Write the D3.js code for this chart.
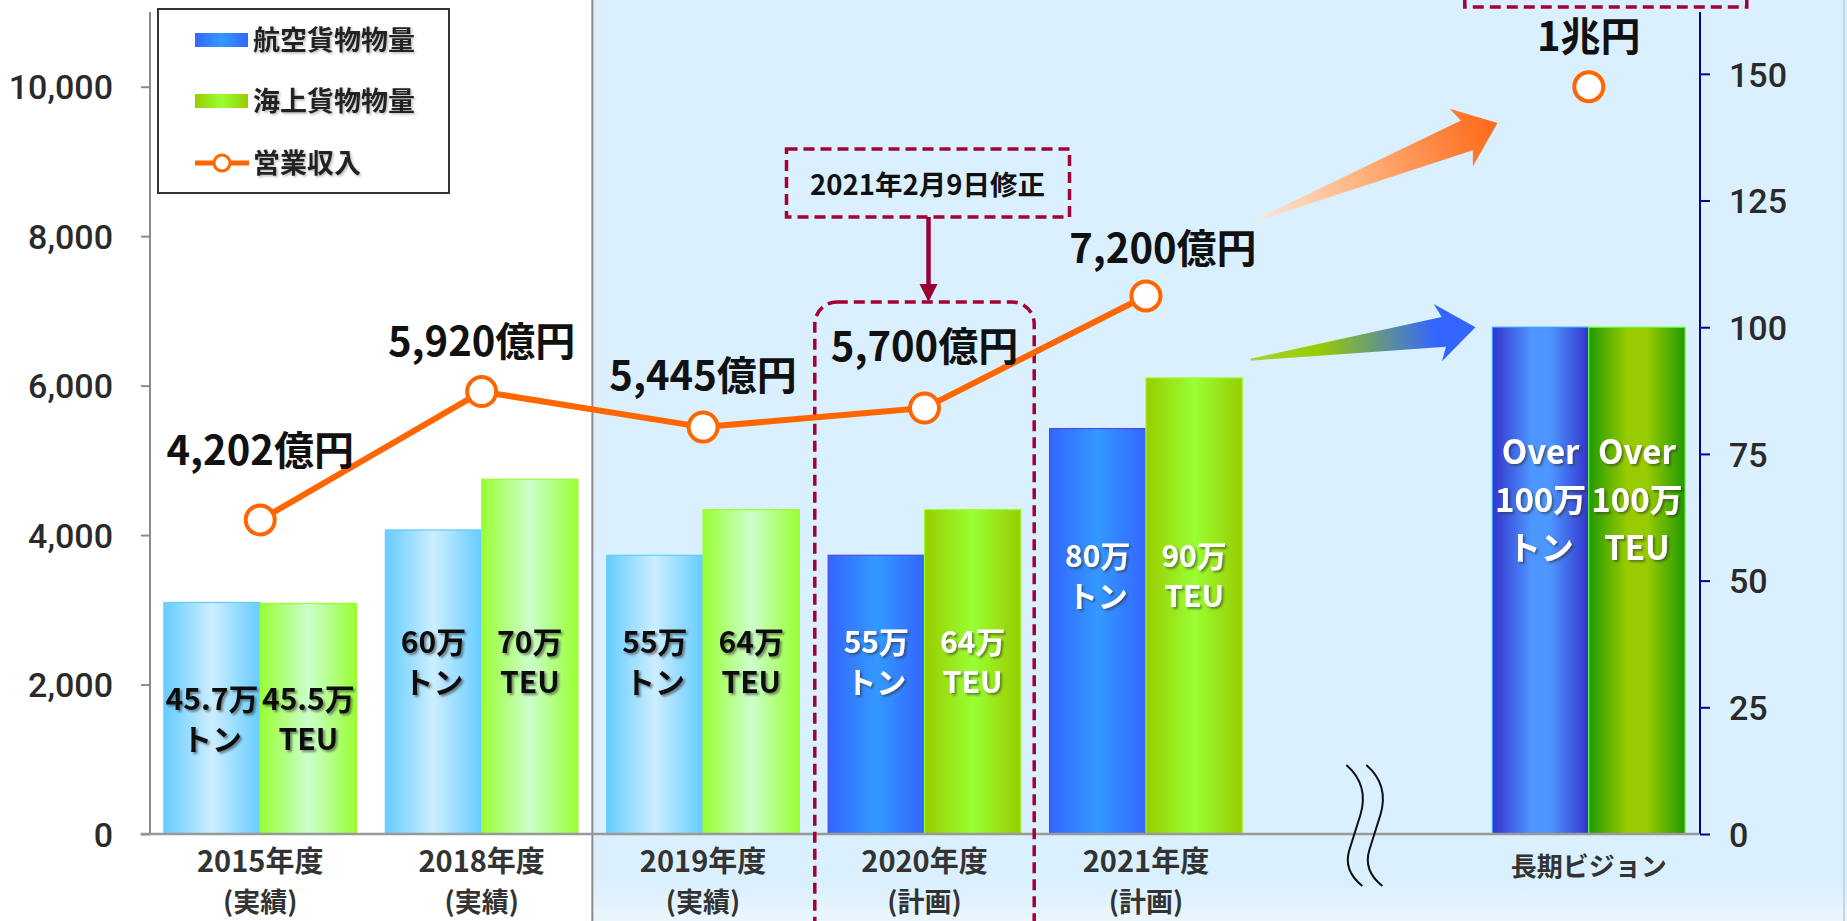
<!DOCTYPE html>
<html><head><meta charset="utf-8">
<script src="https://cdn.jsdelivr.net/npm/d3@7"></script>
<style>
html,body{margin:0;padding:0;background:#fff;}
svg{display:block;}
</style></head>
<body>
<svg id="chart" width="1847" height="921"></svg>
<script>
// ---------- data ----------
const categories = ["2015", "2018", "2019", "2020", "2021", "gap", "vision"];
const catLine1 = ["2015年度", "2018年度", "2019年度", "2020年度", "2021年度", "", "長期ビジョン"];
const catLine2 = ["(実績)", "(実績)", "(実績)", "(計画)", "(計画)", "", ""];
const airValues = [45.7, 60, 55, 55, 80, null, 100];   // 万トン (right axis)
const seaValues = [45.5, 70, 64, 64, 90, null, 100];   // 万TEU (right axis)
const revenue = [4202, 5920, 5445, 5700, 7200, null, 10000]; // 億円 (left axis)
const revenueLabels = ["4,202億円", "5,920億円", "5,445億円", "5,700億円", "7,200億円", "", "1兆円"];
const airLabels = [["45.7万", "トン"], ["60万", "トン"], ["55万", "トン"], ["55万", "トン"], ["80万", "トン"], null, ["Over", "100万", "トン"]];
const seaLabels = [["45.5万", "TEU"], ["70万", "TEU"], ["64万", "TEU"], ["64万", "TEU"], ["90万", "TEU"], null, ["Over", "100万", "TEU"]];
const barStyle = ["actual", "actual", "actual", "plan", "plan", null, "vision"];
const labelLevel = [24.5, 35.7, 35.7, 35.7, 52.7, null, 73]; // right-axis units where bar text starts
const leftTicks = [0, 2000, 4000, 6000, 8000, 10000];
const rightTicks = [0, 25, 50, 75, 100, 125, 150];
const legendItems = ["航空貨物物量", "海上貨物物量", "営業収入"];
const noteText = "2021年2月9日修正";
// label nudges for revenue texts (px above / beside point)
const revLabelDy = [-55, -36, -37, -47, -33, 0, -36];
const revLabelDx = [0, 0, 0, 0, 17, 0, 0];

// ---------- setup ----------
const W = 1847, H = 921;
const FONT = "'Noto Sans CJK JP','Noto Sans',sans-serif";
const svg = d3.select("#chart");
const defs = svg.append("defs");

const x = d3.scaleBand().domain(categories).range([149.5, 1699.5]).paddingInner(0.13).paddingOuter(0.065);
const xs = d3.scaleBand().domain(["air", "sea"]).range([0, x.bandwidth()]).padding(0);
const yL = d3.scaleLinear().domain([0, 11000]).range([834, 12]);
const yR = d3.scaleLinear().domain([0, 162.2]).range([834, 12]);

function hGrad(id, stops) {
  const g = defs.append("linearGradient").attr("id", id).attr("x1", 0).attr("x2", 1).attr("y1", 0).attr("y2", 0);
  stops.forEach(s => g.append("stop").attr("offset", s[0]).attr("stop-color", s[1]));
}
hGrad("g-actual-air", [[0, "#66ccff"], [0.5, "#cceeff"], [1, "#66ccff"]]);
hGrad("g-actual-sea", [[0, "#99ff33"], [0.5, "#ccffcc"], [1, "#99ff33"]]);
hGrad("g-plan-air", [[0, "#3366ff"], [0.5, "#3399ff"], [1, "#3366ff"]]);
hGrad("g-plan-sea", [[0, "#99cc00"], [0.5, "#99ff33"], [1, "#99cc00"]]);
hGrad("g-vision-air", [[0, "#3333cc"], [0.4, "#4d96ff"], [0.6, "#4d96ff"], [1, "#3333cc"]]);
hGrad("g-vision-sea", [[0, "#229900"], [0.4, "#99cc00"], [0.6, "#99cc00"], [1, "#229900"]]);
const strokeOf = {
  "actual-air": "#66ccff", "actual-sea": "#99ff33",
  "plan-air": "#4a4aee", "plan-sea": "#99ff33",
  "vision-air": "#3399ff", "vision-sea": "#66ff33"
};

const sh = defs.append("filter").attr("id", "shadow").attr("x", "-20%").attr("y", "-20%").attr("width", "150%").attr("height", "150%");
sh.append("feDropShadow").attr("dx", 2).attr("dy", 2).attr("stdDeviation", 1).attr("flood-color", "#333").attr("flood-opacity", 0.55);
const sh2 = defs.append("filter").attr("id", "shadowLight").attr("x", "-20%").attr("y", "-20%").attr("width", "150%").attr("height", "150%");
sh2.append("feDropShadow").attr("dx", 1.5).attr("dy", 1.5).attr("stdDeviation", 0.8).attr("flood-color", "#666").attr("flood-opacity", 0.45);

// ---------- backgrounds ----------
const splitX = x("2019") - x.step() * x.paddingInner() / 2;
svg.append("rect").attr("x", 0).attr("y", 0).attr("width", W).attr("height", H).attr("fill", "#ffffff");
svg.append("rect").attr("x", splitX).attr("y", 0).attr("width", W - splitX).attr("height", H).attr("fill", "#dbf0fe");
const bg = defs.append("linearGradient").attr("id", "bottomFade").attr("x1", 0).attr("x2", 0).attr("y1", 0).attr("y2", 1);
bg.append("stop").attr("offset", 0).attr("stop-color", "#fff").attr("stop-opacity", 0);
bg.append("stop").attr("offset", 1).attr("stop-color", "#fff").attr("stop-opacity", 0.45);
svg.append("rect").attr("x", 0).attr("y", 885).attr("width", W).attr("height", H - 885).attr("fill", "url(#bottomFade)");
svg.append("line").attr("x1", splitX).attr("x2", splitX).attr("y1", 0).attr("y2", H).attr("stroke", "#8c8c8c").attr("stroke-width", 2);
svg.append("line").attr("x1", W - 3).attr("x2", W - 3).attr("y1", 0).attr("y2", H).attr("stroke", "#b8cde0").attr("stroke-width", 1.5);

// ---------- bars ----------
const rows = categories.map((c, i) => ({c, i})).filter(d => barStyle[d.i]);
const barG = svg.append("g");
rows.forEach(d => {
  [["air", airValues], ["sea", seaValues]].forEach(([k, arr]) => {
    const key = barStyle[d.i] + "-" + k;
    barG.append("rect")
      .attr("x", x(d.c) + xs(k))
      .attr("y", yR(arr[d.i]))
      .attr("width", xs.bandwidth())
      .attr("height", yR(0) - yR(arr[d.i]))
      .attr("fill", `url(#g-${key})`)
      .attr("stroke", strokeOf[key]).attr("stroke-width", 1.2);
  });
});

// bar texts
rows.forEach(d => {
  const st = barStyle[d.i];
  const isVision = st === "vision";
  const fs = isVision ? 33 : 30;
  const lh = isVision ? 48 : 40;
  const col = st === "actual" ? "#111" : "#ffffff";
  [["air", airLabels], ["sea", seaLabels]].forEach(([k, arr]) => {
    const lines = arr[d.i];
    const cx = x(d.c) + xs(k) + xs.bandwidth() / 2;
    const t = barG.append("text").attr("text-anchor", "middle")
      .attr("font-family", FONT).attr("font-weight", 700).attr("font-size", fs)
      .attr("fill", col).attr("filter", "url(#shadow)");
    lines.forEach((ln, j) => {
      t.append("tspan").attr("x", cx).attr("y", yR(labelLevel[d.i]) + j * lh).text(ln);
    });
  });
});

// ---------- axes ----------
const leftAxis = d3.axisLeft(yL).tickValues(leftTicks).tickSize(9).tickPadding(28).tickFormat(d3.format(","));
const gl = svg.append("g").attr("transform", `translate(${x.range()[0] + 0.5},0)`).call(leftAxis);
gl.select(".domain").attr("stroke", "#8c8c8c").attr("stroke-width", 2).attr("d", `M0,${yL.range()[1]}V${yL.range()[0]}`);
gl.selectAll(".tick line").attr("stroke", "#8c8c8c").attr("stroke-width", 2);
gl.selectAll(".tick text").attr("font-family", "Roboto,'Liberation Sans',sans-serif").attr("font-weight", 500)
  .attr("font-size", 34).attr("fill", "#2a2a2a").attr("dy", "0.36em");

const rightAxis = d3.axisRight(yR).tickValues(rightTicks).tickSize(10).tickPadding(19);
const gr = svg.append("g").attr("transform", `translate(${x.range()[1] + 0.5},0)`).call(rightAxis);
gr.select(".domain").attr("stroke", "#000099").attr("stroke-width", 2).attr("d", `M0,${yR.range()[1]}V${yR.range()[0]}`);
gr.selectAll(".tick line").attr("stroke", "#000099").attr("stroke-width", 2);
gr.selectAll(".tick text").attr("font-family", "Roboto,'Liberation Sans',sans-serif").attr("font-weight", 500)
  .attr("font-size", 34).attr("fill", "#2a2a2a").attr("dy", "0.36em");

// baseline
svg.append("line").attr("x1", x.range()[0] - 9).attr("x2", x.range()[1]).attr("y1", yL(0)).attr("y2", yL(0))
  .attr("stroke", "#999").attr("stroke-width", 2.5);

// category labels
categories.forEach((c, i) => {
  if (!catLine1[i]) return;
  const cx = x(c) + x.bandwidth() / 2;
  const isV = c === "vision";
  svg.append("text").attr("x", cx).attr("y", isV ? 876 : 872).attr("text-anchor", "middle")
    .attr("font-family", FONT).attr("font-weight", 700).attr("font-size", isV ? 26 : 29).attr("fill", "#333")
    .text(catLine1[i]);
  if (catLine2[i]) svg.append("text").attr("x", cx).attr("y", 912).attr("text-anchor", "middle")
    .attr("font-family", FONT).attr("font-weight", 700).attr("font-size", 27).attr("fill", "#333")
    .text(catLine2[i]);
});

// break marks
const gapC = x("gap") + x.bandwidth() / 2;
[-12, 8].forEach(off => {
  const bx = gapC + off;
  svg.append("path")
    .attr("d", `M${bx - 9},765 C${bx + 6},778 ${bx + 11},795 ${bx + 5},815 L${bx - 6},850 C${bx - 11},866 ${bx - 3},878 ${bx + 7},886`)
    .attr("fill", "none").attr("stroke", "#111").attr("stroke-width", 2);
});

// ---------- annotations ----------
const dashCol = "#a50034";
// rounded dashed box around 2020
svg.append("rect").attr("x", x("2020") - x.step() * x.paddingInner() / 2 + 1).attr("y", 302)
  .attr("width", x.step() - 2).attr("height", 680).attr("rx", 22)
  .attr("fill", "none").attr("stroke", dashCol).attr("stroke-width", 3.5).attr("stroke-dasharray", "11,6");
// note box
const noteCx = x("2020") + x.bandwidth() / 2 + 3;
svg.append("rect").attr("x", noteCx - 141).attr("y", 149).attr("width", 283).attr("height", 68)
  .attr("fill", "none").attr("stroke", dashCol).attr("stroke-width", 3.5).attr("stroke-dasharray", "11,6");
svg.append("text").attr("x", noteCx).attr("y", 195).attr("text-anchor", "middle")
  .attr("font-family", FONT).attr("font-weight", 700).attr("font-size", 27.5).attr("fill", "#111")
  .text(noteText);
svg.append("line").attr("x1", noteCx + 1).attr("x2", noteCx + 1).attr("y1", 217).attr("y2", 288)
  .attr("stroke", "#990033").attr("stroke-width", 4.5);
svg.append("path").attr("d", `M${noteCx - 8},284 L${noteCx + 10},284 L${noteCx + 1},302 Z`).attr("fill", "#990033");
// top-right dashed box (partly off-canvas)
const visC = x("vision") + x.bandwidth() / 2;
svg.append("rect").attr("x", visC - 124).attr("y", -60).attr("width", 282).attr("height", 67)
  .attr("fill", "none").attr("stroke", dashCol).attr("stroke-width", 3.5).attr("stroke-dasharray", "11,6");

// trend arrows
function taperArrow(id, T, P, headLen, headHalf, shaftHalf, stops) {
  const g = defs.append("linearGradient").attr("id", id).attr("gradientUnits", "userSpaceOnUse")
    .attr("x1", T[0]).attr("y1", T[1]).attr("x2", P[0]).attr("y2", P[1]);
  stops.forEach(s => g.append("stop").attr("offset", s[0]).attr("stop-color", s[1]).attr("stop-opacity", s[2] == null ? 1 : s[2]));
  const dx = P[0] - T[0], dy = P[1] - T[1], L = Math.hypot(dx, dy);
  const ux = dx / L, uy = dy / L, nx = -uy, ny = ux;
  const B = [P[0] - ux * headLen, P[1] - uy * headLen];
  const pts = [
    [T[0] + nx * 1, T[1] + ny * 1],
    [B[0] + nx * shaftHalf, B[1] + ny * shaftHalf],
    [B[0] - ux * 6 + nx * headHalf, B[1] - uy * 6 + ny * headHalf],
    P,
    [B[0] - ux * 6 - nx * headHalf, B[1] - uy * 6 - ny * headHalf],
    [B[0] - nx * shaftHalf, B[1] - ny * shaftHalf],
    [T[0] - nx * 1, T[1] - ny * 1]
  ];
  svg.append("path").attr("d", d3.line()(pts) + "Z").attr("fill", `url(#${id})`);
}
const gapStart = x("gap") - x.step() * x.paddingInner() / 2;
taperArrow("arrO", [gapStart, yL(8216)], [x("vision") + 5, yL(9514)], 33, 31, 16,
  [[0, "#ffe6d2", 0.9], [0.45, "#ffb07a"], [0.85, "#ff7a30"], [1, "#ff6a1a"]]);
taperArrow("arrG", [gapStart - 6, yR(93.6)], [x("vision") - 17, yR(100)], 32, 29, 15,
  [[0, "#99cc00", 0.8], [0.3, "#99cc00"], [0.82, "#3366ff"], [1, "#3366ff"]]);

// ---------- revenue line ----------
const revPts = categories.map((c, i) => ({c, i, v: revenue[i]})).filter(d => d.v != null);
const linePts = revPts.filter(d => d.c !== "vision");
const cxOf = d => x(d.c) + x.bandwidth() / 2;
svg.append("path").datum(linePts)
  .attr("d", d3.line().x(cxOf).y(d => yL(d.v)))
  .attr("fill", "none").attr("stroke", "#ff6600").attr("stroke-width", 6).attr("stroke-linejoin", "round");
svg.selectAll(".rev").data(revPts).join("circle")
  .attr("cx", cxOf).attr("cy", d => yL(d.v)).attr("r", 14.5)
  .attr("fill", "#fff").attr("stroke", "#ff6600").attr("stroke-width", 4);
svg.selectAll(".revlab").data(revPts).join("text")
  .attr("x", d => cxOf(d) + revLabelDx[d.i]).attr("y", d => yL(d.v) + revLabelDy[d.i])
  .attr("text-anchor", "middle").attr("font-family", FONT).attr("font-weight", 700)
  .attr("font-size", 40).attr("fill", "#111").text(d => revenueLabels[d.i]);

// ---------- legend ----------
const lg = svg.append("g");
lg.append("rect").attr("x", 158).attr("y", 9).attr("width", 291).attr("height", 184)
  .attr("fill", "#fff").attr("stroke", "#333").attr("stroke-width", 2);
const rowY = [40, 101, 163];
lg.append("rect").attr("x", 195).attr("y", rowY[0] - 7).attr("width", 53).attr("height", 14).attr("fill", "url(#g-plan-air)");
lg.append("rect").attr("x", 195).attr("y", rowY[1] - 7).attr("width", 53).attr("height", 14).attr("fill", "url(#g-plan-sea)");
lg.append("line").attr("x1", 195).attr("x2", 249).attr("y1", rowY[2]).attr("y2", rowY[2]).attr("stroke", "#ff6600").attr("stroke-width", 5);
lg.append("circle").attr("cx", 222).attr("cy", rowY[2]).attr("r", 8).attr("fill", "#fff").attr("stroke", "#ff6600").attr("stroke-width", 3);
legendItems.forEach((t, i) => {
  lg.append("text").attr("x", 253).attr("y", rowY[i] + 10).attr("font-family", FONT).attr("font-weight", 700)
    .attr("font-size", 27).attr("fill", "#222").attr("filter", "url(#shadowLight)").text(t);
});
</script>
</body></html>
